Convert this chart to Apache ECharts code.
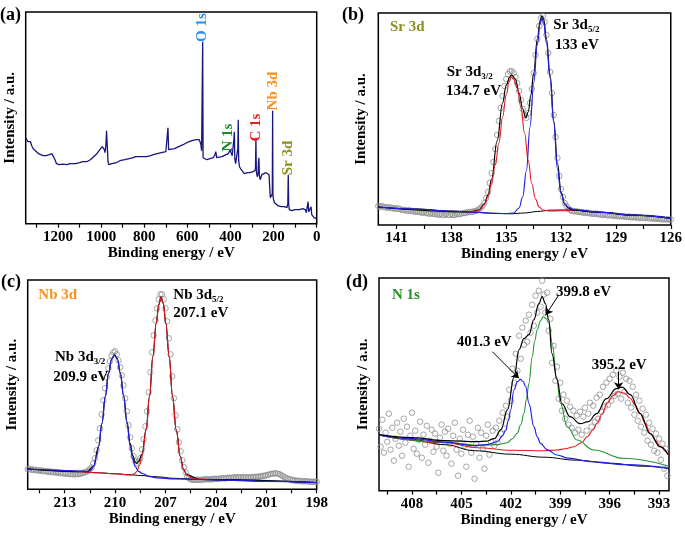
<!DOCTYPE html>
<html><head><meta charset="utf-8">
<script src="https://cdn.jsdelivr.net/npm/echarts@6/dist/echarts.min.js"></script>
<style>html,body{margin:0;padding:0;background:#fff}#c{width:685px;height:541px}</style>
</head><body><div id="c"></div>
<script>
// ---------- (a) survey ----------
const survey = [[1350,86],[1345,85],[1340,82],[1333,80],[1328,82],[1322,78],[1315,75],[1310,77],[1305,73],[1299,72],[1290,70],[1284,69],[1270,68],[1255,68],[1240,69],[1232,71],[1228,70],[1222,68],[1214,64],[1207,60],[1195,59],[1180,59.5],[1160,59],[1145,60],[1120,60],[1100,61],[1085,62],[1067,62],[1050,64],[1035,67],[1020,70],[1006,74],[995,77],[990,78],[985,74],[982,71],[978,78],[975,93],[972,80],[968,62],[965,59],[950,60],[930,61],[913,63],[890,64],[870,65],[850,66],[840,67],[835,69],[830,67],[826,66],[810,67],[790,67],[770,68],[758,69],[740,70],[720,71],[700,72],[693,73],[690,96],[687,74],[682,73],[660,75],[640,77],[620,79],[603,81],[580,83],[557,84],[545,84],[538,80],[534,73],[531,72],[529,182],[527,66],[524,64],[510,64],[495,65],[480,66],[472,69],[468,72],[464,66],[455,66],[440,67],[420,69],[410,70],[402,74],[398,73],[392,68],[386,70],[384,85],[382,92],[380,65],[376,60],[370,62],[366,75],[364,104],[362,63],[358,57],[350,54],[335,50],[320,51],[310,51],[295,52],[288,51],[284,54],[282,86],[280,52],[276,47],[272,50],[270,62],[268,66],[266,48],[262,44],[255,49],[245,50],[235,51],[226,52],[221,49],[218,36],[215,26],[210,25],[206,30],[204.5,113],[203,28],[200,24],[195,21],[190,19],[180,18],[165,17],[150,17],[138,16],[134,20],[132,49],[130,20],[127,14],[115,13],[100,14],[80,14],[65,15],[58,17],[53,14],[48,11],[43,13],[40,22],[37,12],[33,10],[29,11],[26,17],[23,9],[18,7],[12,6],[8,5],[4,4],[1,5]];
const surveyTicks = [1300,1200,1100,1000,900,800,700,600,500,400,300,200,100,0];
const surveyLabels = [1200,1000,800,600,400,200,0];

// ---------- (b) Sr 3d ----------
const bObs = [[142.0,19],[141.9,18],[141.8,19],[141.7,18],[141.6,18],[141.5,17],[141.4,18],[141.3,17],[141.2,17],[141.1,16],[141.0,17],[140.9,16],[140.8,16],[140.7,15],[140.6,15],[140.5,15],[140.4,14],[140.3,15],[140.2,14],[140.1,14],[140.0,13],[139.9,14],[139.8,13],[139.7,13],[139.6,12],[139.5,13],[139.4,12],[139.3,12],[139.2,11],[139.1,12],[139.0,11],[138.9,11],[138.8,11],[138.7,10],[138.6,11],[138.5,10],[138.4,10],[138.3,11],[138.2,10],[138.1,10],[138.0,11],[137.9,10],[137.8,10],[137.7,11],[137.6,11],[137.5,11],[137.4,12],[137.3,12],[137.2,12],[137.1,13],[137.0,13],[136.9,13],[136.8,13.5],[136.7,14],[136.6,14.5],[136.5,15.5],[136.4,17],[136.3,19],[136.2,22],[136.1,27],[136.0,33],[135.9,42],[135.8,52],[135.7,63],[135.6,76],[135.5,90],[135.4,104],[135.3,117],[135.2,129],[135.1,139],[135.0,146],[134.9,151],[134.8,153.5],[134.7,154],[134.6,152],[134.5,148],[134.4,142],[134.3,134],[134.2,125],[134.1,116],[134.0,110],[133.9,107],[133.8,112],[133.7,122],[133.6,136],[133.5,152],[133.4,170],[133.3,186],[133.2,199],[133.1,207],[133.0,209],[132.9,203],[132.8,190],[132.7,172],[132.6,153],[132.5,132],[132.4,110],[132.3,88],[132.2,67],[132.1,49],[132.0,36],[131.9,28],[131.8,22],[131.7,19],[131.6,16.5],[131.5,15],[131.4,14],[131.3,14],[131.2,13.5],[131.1,13.5],[131.0,13],[130.9,13],[130.8,12.5],[130.7,12],[130.6,12.5],[130.5,12],[130.4,11.5],[130.3,11.5],[130.2,11],[130.1,11.5],[130.0,11],[129.9,10.5],[129.8,10.5],[129.7,10],[129.6,10.5],[129.5,10],[129.4,9.5],[129.3,10],[129.2,9.5],[129.1,9],[129.0,9.5],[128.9,9],[128.8,8.5],[128.7,9],[128.6,8.5],[128.5,8.5],[128.4,8],[128.3,8.5],[128.2,8],[128.1,7.5],[128.0,8],[127.9,7.5],[127.8,7.5],[127.7,7],[127.6,7.5],[127.5,7],[127.4,7],[127.3,7.5],[127.2,6.5],[127.1,7],[127.0,6.5],[126.9,6.5],[126.8,6],[126.7,6.5],[126.6,6],[126.5,6],[126.4,5.5],[126.3,6],[126.2,5.5],[126.1,5.5],[126.0,5.5]];
const bBg = [[142,18],[140,16],[138,14],[136.9,13],[135.5,11.5],[134.8,11.2],[134.0,12],[133.3,13.5],[132.6,14.8],[132.0,15],[131.4,15],[130,12.8],[128,9.8],[126,6.7]];
const bEnv = [[142,18],[137,13],[136.5,15],[136.2,21],[136.0,30],[135.8,46],[135.5,84],[135.2,122],[135.0,140],[134.8,148],[134.7,150],[134.5,146],[134.3,132],[134.1,116],[133.93,107],[133.8,113],[133.65,130],[133.5,152],[133.3,186],[133.15,204],[133.05,209],[132.95,206],[132.8,186],[132.6,150],[132.4,104],[132.2,62],[132.0,33],[131.8,21],[131.6,17],[131.4,15],[130,12.8],[128,9.8],[126,6.7]];
const bRed = [[137.2,12.5],[136.9,13],[136.6,14],[136.4,16],[136.2,21],[136.0,28],[135.8,42],[135.6,60],[135.4,82],[135.2,108],[135.0,130],[134.85,143],[134.72,148],[134.6,146],[134.4,137],[134.2,118],[134.0,92],[133.8,65],[133.6,41],[133.4,26],[133.2,18],[133.0,15],[132.6,14],[132.0,14.3],[131.4,14.5]];
const bBlue = [[142.0,18],[140.0,16],[138.0,14],[137.0,13],[136.0,12],[135.0,11.5],[134.6,12],[134.3,17],[134.1,28],[133.9,54],[133.7,98],[133.5,142],[133.3,180],[133.15,201],[133.05,207],[132.95,202],[132.8,182],[132.6,147],[132.4,102],[132.2,56],[132.0,31],[131.8,21],[131.6,17.5],[131.3,15.5],[131.0,15],[130.0,12.8],[128.0,9.8],[126.0,6.7]];
const bTicks = [141,139.5,138,136.5,135,133.5,132,130.5,129,127.5,126];
const bLabels = [141,138,135,132,129,126];

// ---------- (c) Nb 3d ----------
const cObs = [[215.2,20],[215.1,20.5],[215.0,19.5],[214.9,20],[214.8,19],[214.7,19.5],[214.6,19],[214.5,18.5],[214.4,19],[214.3,18],[214.2,18.5],[214.1,18],[214.0,17.5],[213.9,18],[213.8,17],[213.7,17.5],[213.6,17],[213.5,16.5],[213.4,17],[213.3,16],[213.2,16.5],[213.1,16],[213.0,15.5],[212.9,16],[212.8,15.5],[212.7,15],[212.6,15.5],[212.5,15],[212.4,15],[212.3,15.5],[212.2,15],[212.1,15.5],[212.0,16],[211.9,16.5],[211.8,17],[211.7,17.5],[211.6,18.5],[211.5,20],[211.4,22],[211.3,26],[211.2,31],[211.1,39],[211.0,49],[210.9,61],[210.8,75],[210.7,89],[210.6,101],[210.5,112],[210.4,121],[210.3,128],[210.2,134],[210.1,137],[210.0,138],[209.9,135],[209.8,129],[209.7,122],[209.6,114],[209.5,104],[209.4,91],[209.3,78],[209.2,64],[209.1,52],[209.0,41],[208.9,33],[208.8,28],[208.7,26],[208.6,28],[208.5,31],[208.4,40],[208.3,50],[208.2,63],[208.1,78],[208.0,97],[207.9,117],[207.8,137],[207.7,154],[207.6,169],[207.5,181],[207.4,190],[207.3,195],[207.2,195],[207.1,190],[207.0,181],[206.9,168],[206.8,151],[206.7,135],[206.6,113],[206.5,91],[206.4,74],[206.3,60],[206.2,47],[206.1,38],[206.0,29],[205.9,22],[205.8,17],[205.7,13],[205.6,11],[205.5,10],[205.4,9.5],[205.3,9.5],[205.2,9.5],[205.1,9.5],[205.0,9.5],[204.9,9.5],[204.8,9.5],[204.7,10],[204.6,10],[204.5,10],[204.4,10],[204.3,10],[204.2,10],[204.1,10.5],[204.0,10.5],[203.9,10.5],[203.8,10.5],[203.7,11],[203.6,11],[203.5,11],[203.4,11],[203.3,11.5],[203.2,11.5],[203.1,11.5],[203.0,11.5],[202.9,12],[202.8,12],[202.7,12],[202.6,12],[202.5,12],[202.4,12],[202.3,12],[202.2,12],[202.1,12],[202.0,12],[201.9,12],[201.8,12],[201.7,12.5],[201.6,12.5],[201.5,12.5],[201.4,13],[201.3,13],[201.2,13.5],[201.1,13.5],[201.0,14],[200.9,14.5],[200.8,15],[200.7,15.5],[200.6,15.5],[200.5,16],[200.4,16],[200.3,15.5],[200.2,15],[200.1,14],[200.0,13],[199.9,12],[199.8,11],[199.7,10.5],[199.6,10],[199.5,9.5],[199.4,9],[199.3,9],[199.2,8.5],[199.1,8.5],[199.0,8.5],[198.9,8],[198.8,8],[198.7,8],[198.6,8],[198.5,8],[198.4,7.5],[198.3,7.5],[198.2,7.5],[198.1,7.5],[198.0,7.5]];
const cBg = [[215.2,20.3],[212.0,17.5],[211.0,16.5],[210.0,15.5],[209.1,14.5],[208.5,13.8],[207.5,12.5],[206.5,11],[205.0,9.8],[203.0,9],[201.0,8],[198.0,6.8]];
const cEnv = [[215.2,20.3],[212,18],[211.67,17.8],[211.28,23],[210.98,43],[210.78,66],[210.58,93],[210.39,116],[210.2,130.5],[210.03,134.5],[209.86,130.5],[209.69,116.5],[209.49,93.5],[209.29,67.5],[209.1,46],[208.95,34],[208.8,27],[208.7,26],[208.6,28],[208.4,35],[208.15,60],[207.95,93],[207.75,133],[207.55,166],[207.4,185],[207.27,192.5],[207.13,186],[206.98,166],[206.78,133],[206.58,93],[206.36,59.5],[206.12,33],[205.93,20],[205.73,14.5],[205,10],[198,6.8]];
const cBlue = [[215.2,20.3],[214.0,19.5],[213.0,18.8],[212.5,18.5],[212.0,18],[211.67,17.6],[211.45,19],[211.28,22.6],[211.1,33],[210.98,42.6],[210.78,66],[210.58,92.6],[210.39,116],[210.2,130],[210.03,134.3],[209.86,130],[209.69,116],[209.49,92.6],[209.29,66],[209.1,42.6],[208.95,30],[208.8,22.6],[208.6,18],[208.4,16],[208.0,13],[207.5,11.5],[206.5,10.5],[205.0,9.8],[203.0,9],[201.0,8],[198.0,6.8]];
const cRed = [[212.0,17.5],[211.0,16.5],[210.0,15.5],[209.1,14.3],[208.85,15.5],[208.7,18],[208.55,24],[208.4,32.6],[208.15,59.3],[207.95,92.6],[207.75,132.6],[207.55,166],[207.4,184],[207.27,192],[207.13,186],[206.98,166],[206.78,132.6],[206.58,92.6],[206.36,59.3],[206.12,32.6],[205.93,20],[205.73,14.3],[205.4,11],[205.0,10],[204.5,9.7]];
const cTicks = [214.5,213,211.5,210,208.5,207,205.5,204,202.5,201,199.5,198];
const cLabels = [213,210,207,204,201,198];

// ---------- (d) N 1s ----------
const dObs = [[410.0,62],[409.9,44],[409.8,71],[409.7,38],[409.6,58],[409.5,49],[409.4,77],[409.3,41],[409.2,63],[409.1,30],[409.0,52],[408.9,68],[408.8,45],[408.7,59],[408.6,35],[408.5,72],[408.4,48],[408.3,64],[408.2,24],[408.1,55],[408.0,78],[407.9,42],[407.8,60],[407.7,37],[407.6,51],[407.5,69],[407.4,33],[407.3,56],[407.2,46],[407.1,65],[407.0,28],[406.9,50],[406.8,61],[406.7,39],[406.6,57],[406.5,44],[406.4,18],[406.3,53],[406.2,66],[406.1,40],[406.0,59],[405.9,35],[405.8,62],[405.7,47],[405.6,27],[405.5,55],[405.4,68],[405.3,41],[405.2,15],[405.1,52],[405.0,37],[404.9,61],[404.8,45],[404.7,24],[404.6,56],[404.5,70],[404.4,38],[404.3,54],[404.2,12],[404.1,47],[404.0,63],[403.9,33],[403.8,58],[403.7,42],[403.6,22],[403.5,55],[403.4,66],[403.3,36],[403.2,49],[403.1,60],[403.0,45],[402.9,63],[402.8,48],[402.7,70],[402.6,57],[402.5,78],[402.4,62],[402.3,85],[402.2,74],[402.1,101],[402.0,90],[401.9,122],[401.8,108],[401.7,137],[401.6,120],[401.5,155],[401.4,132],[401.3,163],[401.2,146],[401.1,170],[401.0,149],[400.9,176],[400.8,158],[400.7,186],[400.6,165],[400.5,195],[400.4,178],[400.3,200],[400.2,184],[400.1,210],[400.0,196],[399.9,178],[399.8,198],[399.7,160],[399.6,172],[399.5,128],[399.4,145],[399.3,110],[399.2,124],[399.1,92],[399.0,108],[398.9,80],[398.8,96],[398.7,72],[398.6,90],[398.5,66],[398.4,84],[398.3,63],[398.2,80],[398.1,58],[398.0,75],[397.9,61],[397.8,79],[397.7,56],[397.6,74],[397.5,83],[397.4,60],[397.3,77],[397.2,88],[397.1,64],[397.0,85],[396.9,69],[396.8,93],[396.7,72],[396.6,96],[396.5,79],[396.4,104],[396.3,84],[396.2,108],[396.1,86],[396.0,112],[395.9,90],[395.8,116],[395.7,95],[395.6,120],[395.5,97],[395.4,114],[395.3,92],[395.2,118],[395.1,99],[395.0,112],[394.9,88],[394.8,110],[394.7,83],[394.6,104],[394.5,76],[394.4,96],[394.3,70],[394.2,90],[394.1,64],[394.0,82],[393.9,58],[393.8,76],[393.7,50],[393.6,68],[393.5,46],[393.4,62],[393.3,40],[393.2,57],[393.1,38],[393.0,52],[392.9,31],[392.8,47],[392.7,22],[392.6,42],[392.5,15]];
const dBg = [[410,55.7],[408,51],[406,46],[404.2,40],[402,36.5],[400,33.5],[398,30.5],[396,27.5],[394,24.5],[392.4,22.4]];
const dEnv = [[410,56],[408,53],[406,50],[404,49],[403.5,49.5],[403,52],[402.6,61],[402.2,81],[401.8,114],[401.5,141],[401.2,152],[400.9,156],[400.6,171],[400.3,187],[400.1,194],[399.9,187],[399.7,171],[399.5,137],[399.2,111],[398.9,87],[398.4,74],[397.8,67],[397.3,69],[396.8,77],[396.2,92],[395.6,102],[395.25,103.5],[394.75,96],[394.15,77],[393.55,57],[392.95,44],[392.45,36]];
const dBlue = [[410,55.7],[408,52],[406,48.5],[404.23,45],[403.5,46],[402.81,49],[402.5,55],[402.31,60.7],[402.15,70],[402.01,80.7],[401.81,100.7],[401.6,109],[401.41,111.4],[401.25,109],[401.1,104],[400.9,87.4],[400.6,64],[400.4,54],[400.2,47.4],[399.8,41],[399.19,35.7],[398.5,32.5],[397.17,29],[395,26],[392.43,22.4]];
const dGreen = [[410,55.7],[406,48.5],[404,45.5],[403.22,45.7],[402.7,46.5],[402.21,48],[401.9,52],[401.61,57.4],[401.4,66],[401.2,77.4],[401.05,92],[400.9,107.4],[400.7,134],[400.55,150],[400.4,160.7],[400.2,170],[400.03,174],[399.85,172],[399.69,167.4],[399.49,147.4],[399.23,114],[398.99,87.4],[398.58,64],[397.98,50.7],[396.97,40.7],[395.16,32.4],[392.43,24.7]];
const dRed = [[410,55.7],[406,48],[404,43],[402,40.5],[400,40],[399.19,40.7],[398.7,42],[398.18,44],[397.7,48],[397.37,54],[397.0,61],[396.77,67.4],[396.45,77],[396.16,87.4],[395.8,95],[395.46,99],[395.1,97.5],[394.75,92.4],[394.45,85.5],[394.15,77.4],[393.85,67.5],[393.54,57.4],[393.2,50],[392.94,44],[392.43,35.7]];
const dArrows = [[[399.09,195.7],[399.89,175.7]],[[403.12,139],[401.51,112.4]],[[395.46,119],[395.46,101.4]]];
const dTicks = [409.5,408,406.5,405,403.5,402,400.5,399,397.5,396,394.5,393];
const dLabels = [408,405,402,399,396,393];

const F = 'Liberation Serif';
const RED = '#e8161e', BLUE = '#2020e6', GREEN = '#22962a', GRAY = '#8e8e8e';

function xa(gi, min, max, labels, ticks) {
  return {gridIndex: gi, type: 'value', min: min, max: max, inverse: true,
    name: 'Binding energy / eV', nameLocation: 'middle', nameGap: 19,
    nameTextStyle: {fontFamily: F, fontWeight: 'bold', fontSize: 15, color: '#000'},
    axisLine: {show: false, onZero: false},
    axisTick: {show: true, customValues: ticks, length: 4, inside: false, lineStyle: {color: '#000', width: 1.2}},
    axisLabel: {customValues: labels, margin: 6, fontFamily: F, fontWeight: 'bold', fontSize: 15, color: '#000',
      formatter: function (v) { return String(v); }},
    splitLine: {show: false}};
}
function ya(gi, max, gap) {
  return {gridIndex: gi, type: 'value', min: 0, max: max,
    name: 'Intensity / a.u.', nameLocation: 'middle', nameGap: gap, nameRotate: 90,
    nameTextStyle: {fontFamily: F, fontWeight: 'bold', fontSize: 15, color: '#000'},
    axisLine: {show: false}, axisTick: {show: false}, axisLabel: {show: false}, splitLine: {show: false}};
}
function ln(gi, data, color, w, smooth) {
  return {type: 'line', xAxisIndex: gi, yAxisIndex: gi, data: data, showSymbol: false, symbol: 'none',
    smooth: smooth, smoothMonotone: 'x', lineStyle: {color: color, width: w}, z: 3, silent: true};
}
function sc(gi, data, size) {
  return {type: 'scatter', xAxisIndex: gi, yAxisIndex: gi, data: data, symbol: 'circle', symbolSize: size,
    itemStyle: {color: 'rgba(255,255,255,0)', borderColor: GRAY, borderWidth: 1}, z: 2, silent: true};
}
function txt(x, y, text, size, color, opts) {
  return Object.assign({type: 'text', x: x, y: y, z: 10, silent: true,
    style: {text: text, fontFamily: F, fontWeight: 'bold', fontSize: size, fill: color || '#000',
      align: 'left', verticalAlign: 'middle'}}, opts || {});
}
function rot(x, y, text, color) {
  return {type: 'text', x: x, y: y, rotation: Math.PI / 2, z: 10, silent: true,
    style: {text: text, fontFamily: F, fontWeight: 'bold', fontSize: 15, fill: color, align: 'center', verticalAlign: 'middle'}};
}
function sub(x, y, main, s) {
  return {type: 'text', x: x, y: y, z: 10, silent: true,
    style: {text: '{m|' + main + '}{s|' + s + '}', align: 'left', verticalAlign: 'middle',
      rich: {m: {fontFamily: F, fontWeight: 'bold', fontSize: 15, fill: '#000', color: '#000', lineHeight: 17},
             s: {fontFamily: F, fontWeight: 'bold', fontSize: 9, fill: '#000', color: '#000', lineHeight: 17, padding: [9, 0, 0, 0]}}}};
}

const chart = echarts.init(document.getElementById('c'), null, {renderer: 'canvas'});
const grids = [
  {left: 25.7, top: 12, width: 291, height: 211.7},
  {left: 378.3, top: 13, width: 293.7, height: 212},
  {left: 27.7, top: 280, width: 289, height: 209.3},
  {left: 379, top: 278, width: 290, height: 212.7}
].map(g => Object.assign({show: true, borderColor: '#000', borderWidth: 1.5, backgroundColor: 'rgba(0,0,0,0)', containLabel: false}, g));

const arrowLine = {silent: true, symbol: ['none', 'arrow'], symbolSize: 7, animation: false,
  lineStyle: {color: '#000', width: 1, type: 'solid'}, label: {show: false},
  data: dArrows.map(a => [{coord: a[0]}, {coord: a[1]}])};

const dEnvSeries = ln(3, dEnv, '#000', 1.2, 0.4);
dEnvSeries.markLine = arrowLine;

chart.setOption({
  animation: false,
  backgroundColor: '#fff',
  grid: grids,
  xAxis: [xa(0, 0, 1350, surveyLabels, surveyTicks), xa(1, 126, 142, bLabels, bTicks),
          xa(2, 198, 215.2, cLabels, cTicks), xa(3, 392.4, 410, dLabels, dTicks)],
  yAxis: [ya(0, 211.7, 8), ya(1, 212, 9.5), ya(2, 209.3, 8), ya(3, 212.7, 8.5)],
  series: [
    ln(0, survey, '#16167e', 1.3, false),
    sc(1, bObs, 5.5), ln(1, bBg, '#000', 1, 0.4), ln(1, bEnv, '#000', 1.2, 0.4), ln(1, bRed, RED, 1.1, 0.4), ln(1, bBlue, BLUE, 1.2, 0.4),
    sc(2, cObs, 5.5), ln(2, cBg, '#000', 1, 0.4), ln(2, cEnv, '#000', 1.2, 0.4), ln(2, cRed, RED, 1.1, 0.4), ln(2, cBlue, BLUE, 1.2, 0.4),
    sc(3, dObs, 5.5), ln(3, dBg, '#000', 1, 0.4), ln(3, dRed, RED, 1.1, 0.4), ln(3, dGreen, GREEN, 1.1, 0.4), ln(3, dBlue, BLUE, 1.2, 0.4), dEnvSeries
  ],
  graphic: [
    txt(0, 15, '(a)', 18), txt(342, 15, '(b)', 18), txt(1, 282, '(c)', 18), txt(346, 282, '(d)', 18),
    rot(202.5, 27.5, 'O 1s', '#2a8ff0'), rot(228, 137.5, 'N 1s', '#1f8a2a'), rot(256, 127.5, 'C 1s', '#ee1c25'),
    rot(273, 91, 'Nb 3d', '#f7901e'), rot(288, 158, 'Sr 3d', '#8f8f1e'),
    txt(390, 26.7, 'Sr 3d', 15, '#8f8f1e'),
    sub(446.7, 72, 'Sr 3d', '3/2'), txt(446, 90.7, '134.7 eV', 15),
    sub(553.3, 25, 'Sr 3d', '5/2'), txt(555, 45, '133 eV', 15),
    txt(38.3, 295, 'Nb 3d', 15, '#f7901e'),
    sub(173.3, 295, 'Nb 3d', '5/2'), txt(173.3, 313.3, '207.1 eV', 15),
    sub(55, 356.7, 'Nb 3d', '3/2'), txt(53.3, 376.7, '209.9 eV', 15),
    txt(392, 295, 'N 1s', 15, '#2a8f2a'),
    txt(556, 291.7, '399.8 eV', 15), txt(456.7, 341.7, '401.3 eV', 15), txt(591.7, 365, '395.2 eV', 15)
  ]
});
</script></body></html>
